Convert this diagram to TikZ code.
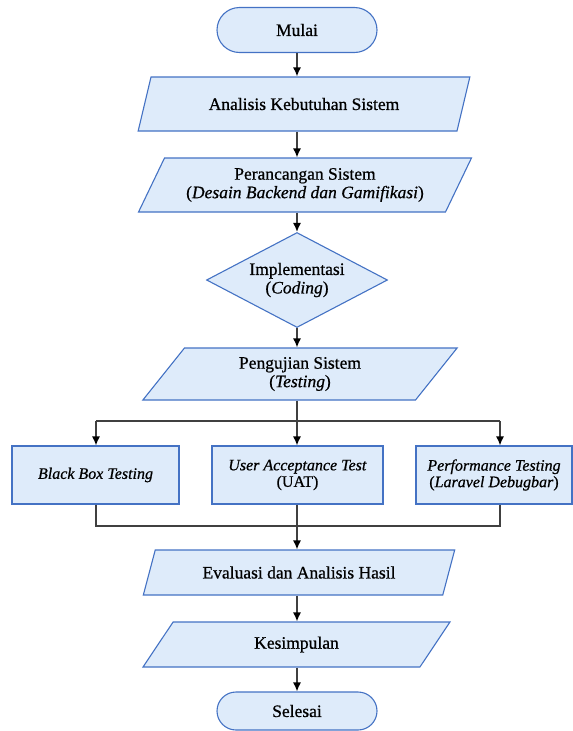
\documentclass[tikz,border=0pt]{standalone}
\usepackage{fontspec}
\setmainfont{Liberation Serif}
\newfontfamily\flowfont{Liberation Serif}[FakeBold=0.7, ItalicFeatures={FakeBold=0.7}]
\usepackage{tikz}
\usetikzlibrary{arrows.meta}
\usetikzlibrary{shapes.geometric,shapes.misc}
\definecolor{boxfill}{RGB}{222,235,250}
\definecolor{boxline}{RGB}{68,114,196}
\definecolor{linegray}{RGB}{64,64,64}
\tikzset{
 base/.style={draw=boxline, fill=boxfill, line width=1.1pt, align=center, text=black,
   font=\flowfont\fontsize{17.5}{18.5}\selectfont, inner sep=0pt},
 term/.style={base, rounded rectangle, minimum width=160pt},
 io/.style={base, trapezium, trapezium left angle=57, trapezium right angle=123,
   trapezium stretches=true},
 proc/.style={base, rectangle, minimum height=58pt, font=\flowfont\fontsize{16}{16.5}\selectfont},
 decide/.style={base, diamond, aspect=1.9, minimum width=181pt, minimum height=95pt},
 conn/.style={linegray, line width=1.4pt},
 arr/.style={conn, -{Latex[length=9pt,width=8pt,black]}}
}

\begin{document}
\begin{tikzpicture}[x=1pt,y=-1pt]
\useasboundingbox (0,0) rectangle (573,731);
\node[term, minimum height=45pt] (mulai) at (297,30) {Mulai};
\node[io, minimum width=332pt, minimum height=54pt] (analisis) at (304,104) {Analisis Kebutuhan Sistem};
\node[io, minimum width=334pt, minimum height=54pt] (rancang) at (305,185)
  {Perancangan Sistem\\(\textit{Desain Backend dan Gamifikasi})};
\node[decide] (impl) at (297,280) {Implementasi\\(\textit{Coding})};
\node[io, minimum width=315pt, minimum height=52pt] (uji) at (300,374) {Pengujian Sistem\\(\textit{Testing})};
% tiga jenis pengujian
\node[proc, minimum width=167pt] (bbt) at (95.5,475) {\textit{Black Box Testing}};
\node[proc, minimum width=171pt] (uat) at (297.5,475) {\textit{User Acceptance Test}\\(UAT)};
\node[proc, minimum width=156pt] (perf) at (494,475) {\textit{Performance Testing}\\(\textit{Laravel Debugbar})};
\node[io, minimum width=312pt, minimum height=45pt] (eval) at (299,572.5) {Evaluasi dan Analisis Hasil};
\node[io, minimum width=307pt, minimum height=45pt] (simpul) at (296.5,644.5) {Kesimpulan};
\node[term, minimum height=38pt] (selesai) at (297,711) {Selesai};

\coordinate (s1) at (96,421);  \coordinate (s3) at (500,421);
\coordinate (j1) at (96,526);  \coordinate (j3) at (500,526);

\draw[arr] (mulai.south) -- (mulai |- analisis.north);
\draw[arr] (mulai |- analisis.south) -- (mulai |- rancang.north);
\draw[arr] (mulai |- rancang.south) -- (impl.north);
\draw[arr] (impl.south) -- (mulai |- uji.north);
\draw[conn] (mulai |- uji.south) -- (mulai |- s1);
\draw[conn] (s1) -- (s3);
\foreach \c/\n in {s1/bbt,s3/perf}
 \draw[arr] (\c) -- (\c |- \n.north);
\draw[arr] (mulai |- s1) -- (mulai |- uat.north);
\draw[conn] (j1 |- bbt.south) -- (j1) -- (j3) -- (j3 |- perf.south);
\draw[arr] (mulai |- uat.south) -- (mulai |- eval.north);
\draw[arr] (mulai |- eval.south) -- (mulai |- simpul.north);
\draw[arr] (mulai |- simpul.south) -- (selesai.north);
\end{tikzpicture}
\end{document}
